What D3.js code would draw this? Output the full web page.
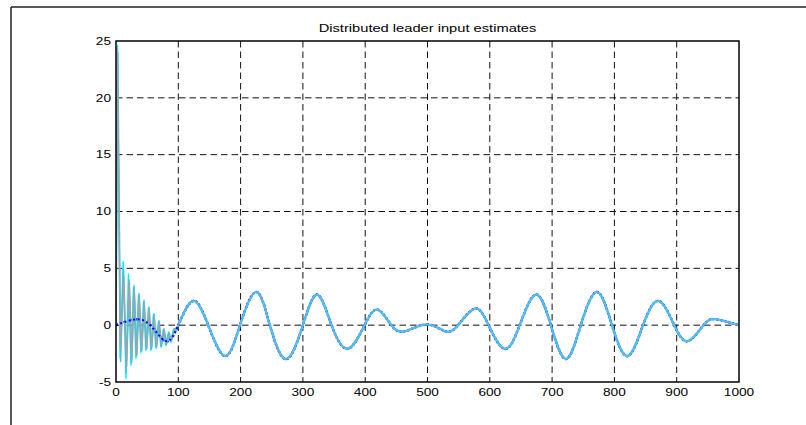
<!DOCTYPE html>
<html>
<head>
<meta charset="utf-8">
<script src="https://cdn.jsdelivr.net/npm/d3@7"></script>
<style>
  html, body { margin: 0; padding: 0; background: #fff; }
  svg { display: block; }
  text { font-family: "Liberation Sans", Arial, Helvetica, sans-serif; fill: #000; }
</style>
</head>
<body>
<svg id="chart" width="806" height="425"></svg>
<script>
// ---- data ----
const titleText = "Distributed leader input estimates";
const xTicks = [0, 100, 200, 300, 400, 500, 600, 700, 800, 900, 1000];
const yTicks = [-5, 0, 5, 10, 15, 20, 25];

// leader input: extrema and zero crossings
const leaderT = [0, 30, 55, 80, 100, 124, 148, 175, 199, 225, 247, 273, 300, 323, 346, 372, 399, 420, 442, 464, 499, 528, 549, 576, 598, 624, 648, 674, 698, 722, 746, 772, 796, 821, 846, 871, 896, 918, 943, 963, 1000];
const leaderV = [0, 0.5, 0, -1.4, 0, 2.13, 0, -2.72, 0, 2.92, 0, -2.98, 0, 2.69, 0, -2.08, 0, 1.37, 0, -0.53, 0.06, -0.53, 0, 1.46, 0, -2.08, 0, 2.69, 0, -2.98, 0, 2.92, 0, -2.72, 0, 2.13, 0, -1.4, 0, 0.52, 0];

// followers' estimates during the transient (afterwards they track the leader)
const est1T = [0, 2.5, 6.5, 11.5, 16, 20, 24, 28, 32, 36, 40, 44, 48, 52, 56, 60, 64, 68, 72, 76, 80, 84, 88, 92, 96, 100];
const est1V = [0, 24.6, -2.9, 5.6, -4.7, 4.5, -3.5, 3.3, -2.9, 2.6, -2.4, 2.0, -2.2, 1.5, -2.2, 0.9, -2.0, 0.3, -1.9, -0.4, -1.8, -0.7, -1.5, -0.4, -0.5, 0];
const est2T = [0, 2, 7, 12.5, 17, 21.5, 25.5, 29.5, 33.5, 37.5, 41.5, 45.5, 49.5, 53.5, 57.5, 61.5, 65.5, 69.5, 73.5, 77.5, 81.5, 85.5, 89.5, 94, 100];
const est2V = [0, 24.3, -2.0, 4.3, -3.6, 3.8, -3.0, 3.0, -2.6, 2.4, -2.2, 1.8, -2.0, 1.3, -1.9, 0.7, -1.8, 0.1, -1.7, -0.5, -1.6, -0.9, -1.3, -0.4, 0];
const est3T = [0, 3, 7.5, 12, 16.5, 21, 25, 29, 33, 37, 41, 45, 49, 53, 57, 61, 65, 69, 73, 77, 81, 85, 89, 93, 97, 100];
const est3V = [0, 24.0, -3.2, 5.0, -4.2, 4.0, -3.3, 3.5, -2.7, 2.8, -2.3, 2.2, -2.1, 1.6, -2.1, 1.0, -2.0, 0.4, -1.9, -0.3, -1.7, -0.6, -1.4, -0.3, -0.4, 0];

const estColors = ["#00eefc", "#38c4f0", "#9ea4aa"];

// ---- layout ----
const svg = d3.select("#chart");
const x = d3.scaleLinear().domain([0, 1000]).range([116, 739]);
const y = d3.scaleLinear().domain([-5, 25]).range([382, 41]);
const fontSize = 10.5, stretch = 1.3;

// outer figure frame
svg.append("line").attr("x1", 11).attr("x2", 806).attr("y1", 7).attr("y2", 7)
  .attr("stroke", "#222").attr("stroke-width", 1.5);
svg.append("line").attr("x1", 11).attr("x2", 11).attr("y1", 7).attr("y2", 425)
  .attr("stroke", "#222").attr("stroke-width", 1.5);

// clip region for the plot
svg.append("clipPath").attr("id", "plotClip").append("rect")
  .attr("x", x(0)).attr("y", y(25)).attr("width", x(1000) - x(0)).attr("height", y(-5) - y(25));

// grid
const grid = svg.append("g").attr("stroke", "#111").attr("stroke-width", 1).attr("stroke-dasharray", "6.5,4");
grid.selectAll("line.v").data(xTicks.slice(1, -1)).join("line")
  .attr("x1", d => x(d)).attr("x2", d => x(d)).attr("y1", y(25)).attr("y2", y(-5));
grid.selectAll("line.h").data(yTicks.slice(1, -1)).join("line")
  .attr("x1", x(0)).attr("x2", x(1000)).attr("y1", d => y(d)).attr("y2", d => y(d));

const plot = svg.append("g").attr("clip-path", "url(#plotClip)");

const leader = leaderT.map((t, i) => ({ t, v: leaderV[i] }));
const smooth = d3.line().x(d => x(d.t)).y(d => y(d.v)).curve(d3.curveNatural);
const jagged = d3.line().x(d => x(d.t)).y(d => y(d.v));
const leaderPath = smooth(leader);

// leader signal, dotted blue
plot.append("path").attr("d", leaderPath).attr("fill", "none")
  .attr("stroke", "#0000ff").attr("stroke-width", 2.4).attr("stroke-dasharray", "2,2");

// transient part of each estimate
const ests = [[est1T, est1V], [est3T, est3V], [est2T, est2V]];
ests.forEach(([T, V], k) => {
  const pts = T.map((t, i) => ({ t, v: V[i] }));
  plot.append("path").attr("d", jagged(pts)).attr("fill", "none")
    .attr("stroke", estColors[k]).attr("stroke-width", 1.4).attr("stroke-linejoin", "round");
});

// leader stays visible through the transient
svg.append("clipPath").attr("id", "earlyClip").append("rect")
  .attr("x", x(0)).attr("y", y(25)).attr("width", x(100) - x(0)).attr("height", y(-5) - y(25));
svg.append("path").attr("clip-path", "url(#earlyClip)").attr("d", leaderPath).attr("fill", "none")
  .attr("stroke", "#0000ff").attr("stroke-width", 2).attr("stroke-dasharray", "2,2.5");

// converged part: estimates follow the leader
const tracked = leader.filter(d => d.t >= 100);
plot.append("path").attr("d", smooth(tracked)).attr("fill", "none")
  .attr("stroke", "#6a84e0").attr("stroke-width", 2.2);
plot.append("path").attr("d", smooth(tracked)).attr("fill", "none")
  .attr("stroke", "#40ccf2").attr("stroke-width", 1.6);

// axes box
svg.append("rect").attr("x", x(0)).attr("y", y(25)).attr("width", x(1000) - x(0)).attr("height", y(-5) - y(25))
  .attr("fill", "none").attr("stroke", "#000").attr("stroke-width", 1.5);

// tick labels
svg.append("g").selectAll("text").data(xTicks).join("text")
  .attr("transform", d => `translate(${x(d)},395.5) scale(${stretch},1)`)
  .attr("text-anchor", "middle").attr("font-size", fontSize).text(d => d);
svg.append("g").selectAll("text").data(yTicks).join("text")
  .attr("transform", d => `translate(111,${y(d) + 3.8}) scale(${stretch},1)`)
  .attr("text-anchor", "end").attr("font-size", fontSize).text(d => d);

// title
svg.append("text").attr("transform", `translate(${(x(0) + x(1000)) / 2},32) scale(1.36,1)`)
  .attr("text-anchor", "middle").attr("font-size", 10.8).text(titleText);
</script>
</body>
</html>
